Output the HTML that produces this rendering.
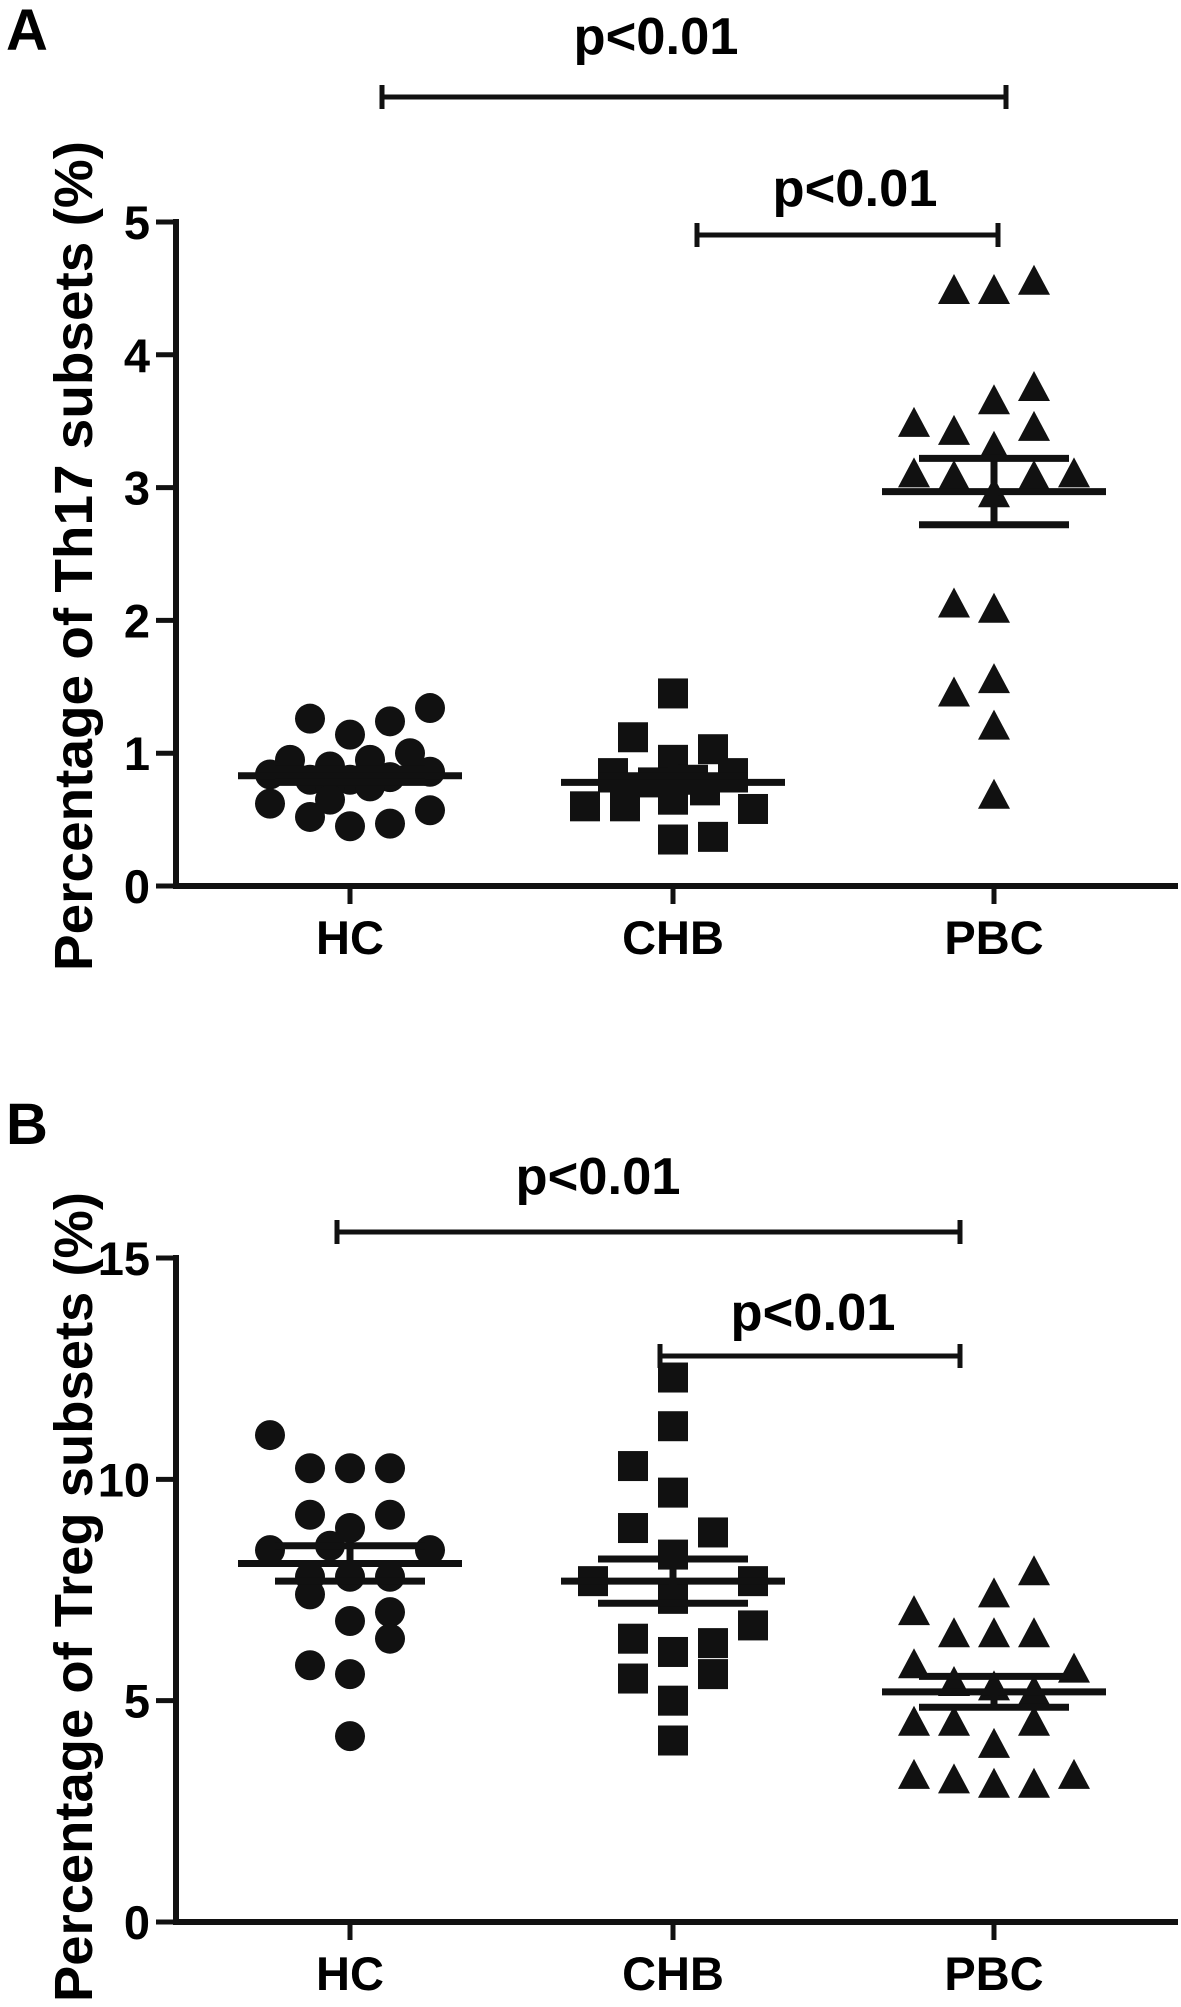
<!DOCTYPE html>
<html><head><meta charset="utf-8"><style>
html,body{margin:0;padding:0;background:#fff;}
svg{display:block;font-family:"Liberation Sans",Arial,sans-serif;font-weight:bold;}
</style></head><body>
<svg id="chart" width="1181" height="2007" viewBox="0 0 1181 2007" xmlns="http://www.w3.org/2000/svg"></svg>
<script>
// ---- data ----
const categories = ["HC","CHB","PBC"];
const thTicks = [0,1,2,3,4,5];
const trTicks = [0,5,10,15];
const thHC = [1.26,1.14,1.24,1.34,0.95,0.90,0.95,1.0,0.84,0.80,0.80,0.82,0.86,0.75,0.75,0.62,0.65,0.52,0.45,0.47,0.57];
const thHCj = [-1,0,1,2,-1.5,-0.5,0.5,1.5,-2,-1,0,1,2,-0.5,0.5,-2,-0.5,-1,0,1,2];
const thCHB = [1.45,1.12,1.03,0.95,0.85,0.85,0.78,0.80,0.60,0.60,0.65,0.72,0.58,0.35,0.37];
const thCHBj = [0,-1,1,0,-1.5,1.5,-0.5,0.5,-2.2,-1.2,0,0.8,2,0,1];
const thPBC = [4.48,4.48,4.55,3.75,3.65,3.48,3.42,3.45,3.30,3.10,3.08,3.08,3.10,2.95,2.12,2.08,1.45,1.55,1.20,0.68];
const thPBCj = [-1,0,1,1,0,-2,-1,1,0,-2,-1,1,2,0,-1,0,-1,0,0,0];
const thMean = [0.83,0.78,2.97];
const thSem = [0.05,0.05,0.25];
const trHC = [11.0,10.25,10.25,10.25,9.2,8.9,9.2,8.4,8.5,8.4,7.8,7.8,7.8,7.4,7.0,6.8,6.4,5.8,5.6,4.2];
const trHCj = [-2,-1,0,1,-1,0,1,-2,-0.5,2,-1,0,1,-1,1,0,1,-1,0,0];
const trCHB = [12.3,11.2,10.3,9.7,8.9,8.8,8.3,7.7,7.7,7.3,6.7,6.4,6.3,6.1,5.6,5.5,5.0,4.1];
const trCHBj = [0,0,-1,0,-1,1,0,-2,2,0,2,-1,1,0,1,-1,0,0];
const trPBC = [7.9,7.4,7.0,6.5,6.5,6.5,5.8,5.7,5.4,5.3,5.2,4.5,4.5,4.5,4.0,3.3,3.2,3.1,3.1,3.3];
const trPBCj = [1,0,-2,-1,0,1,-2,2,-1,0,1,-2,-1,1,0,-2,-1,0,1,2];
const trMean = [8.1,7.7,5.2];
const trSem = [0.4,0.5,0.35];

const NS="http://www.w3.org/2000/svg";
const svg=document.getElementById('chart');
function mk(tag,attrs,parent,text){const e=document.createElementNS(NS,tag);for(const k in attrs)e.setAttribute(k,attrs[k]);if(text!==undefined)e.textContent=text;(parent||svg).appendChild(e);return e;}

function panel(opt){
  const g=mk('g',{});
  
  
  const ax=176, x1=1178;
  const y=v=>opt.y0-(v-0)*(opt.y0-opt.yTop)/opt.max;
  const xc=i=>[350,673,994][i];
  const J=40;
  const L=mk('text',{x:6,y:opt.letterY,'font-size':58},g,opt.letter);
  
  
  const ya=mk('line',{x1:ax,y1:opt.yTop-3,x2:ax,y2:opt.y0+3,stroke:'#111','stroke-width':6},g);
  
  
  const xa=mk('line',{x1:ax-3,y1:opt.y0,x2:x1,y2:opt.y0,stroke:'#111','stroke-width':6},g);
  
  
  opt.ticks.forEach(t=>{
    mk('line',{x1:ax-20,y1:y(t),x2:ax,y2:y(t),stroke:'#111','stroke-width':5},g);
    const tl=mk('text',{x:150,y:y(t)+17,'font-size':47,'text-anchor':'end'},g,String(t));
    
    
  });
  categories.forEach((c,i)=>{
    mk('line',{x1:xc(i),y1:opt.y0,x2:xc(i),y2:opt.y0+18,stroke:'#111','stroke-width':5},g);
    const cl=mk('text',{x:xc(i),y:opt.y0+68,'font-size':47,'text-anchor':'middle'},g,c);
    
    
  });
  const yt=mk('text',{x:0,y:0,'font-size':54,'text-anchor':'middle',transform:`translate(${opt.titleX},${opt.titleY}) rotate(-90)`,textLength:opt.titleLen,lengthAdjust:'spacingAndGlyphs'},g,opt.title);
  
  
  opt.series.forEach((s,i)=>{
    s.vals.forEach((v,k)=>{
      const px=xc(i)+s.jit[k]*J, py=y(v);
      let m;
      if(i===0) m=mk('circle',{cx:px,cy:py,r:15,fill:'#111'},g);
      else if(i===1) m=mk('rect',{x:px-15,y:py-15,width:30,height:30,fill:'#111'},g);
      else m=mk('polygon',{points:`${px},${py-17} ${px+16},${py+13} ${px-16},${py+13}`,fill:'#111'},g);
      
      
    });
  });
  opt.mean.forEach((m,i)=>{
    const ml=mk('line',{x1:xc(i)-112,y1:y(m),x2:xc(i)+112,y2:y(m),stroke:'#111','stroke-width':7},g);
    
    
    const hi=m+opt.sem[i], lo=m-opt.sem[i];
    mk('line',{x1:xc(i),y1:y(hi),x2:xc(i),y2:y(lo),stroke:'#111','stroke-width':7},g);
    [hi,lo].forEach(v=>{
      const e=mk('line',{x1:xc(i)-75,y1:y(v),x2:xc(i)+75,y2:y(v),stroke:'#111','stroke-width':7},g);
      
      
    });
  });
  opt.brackets.forEach(b=>{
    const bg=mk('g',{},g);
    
    
    mk('line',{x1:b[0],y1:b[2],x2:b[1],y2:b[2],stroke:'#111','stroke-width':5},bg);
    mk('line',{x1:b[0],y1:b[2]-12,x2:b[0],y2:b[2]+12,stroke:'#111','stroke-width':5},bg);
    mk('line',{x1:b[1],y1:b[2]-12,x2:b[1],y2:b[2]+12,stroke:'#111','stroke-width':5},bg);
    const pt=mk('text',{x:b[3],y:b[4],'font-size':52,'text-anchor':'middle',textLength:165,lengthAdjust:'spacingAndGlyphs'},bg,'p<0.01');
    
    
  });
}

panel({name:'panel-a-th17',letter:'A',letterY:50,yTop:222,y0:886,max:5,ticks:thTicks,
  title:'Percentage of Th17 subsets (%)',titleX:92,titleY:556,titleLen:830,
  series:[{vals:thHC,jit:thHCj},{vals:thCHB,jit:thCHBj},{vals:thPBC,jit:thPBCj}],
  mean:thMean,sem:thSem,
  brackets:[[382,1006,97,656,54],[697,998,235,855,206]]});
panel({name:'panel-b-treg',letter:'B',letterY:1144,yTop:1258,y0:1922,max:15,ticks:trTicks,
  title:'Percentage of Treg subsets (%)',titleX:92,titleY:1597,titleLen:810,
  series:[{vals:trHC,jit:trHCj},{vals:trCHB,jit:trCHBj},{vals:trPBC,jit:trPBCj}],
  mean:trMean,sem:trSem,
  brackets:[[337,960,1232,598,1194],[660,960,1356,813,1330]]});
</script>
</body></html>
